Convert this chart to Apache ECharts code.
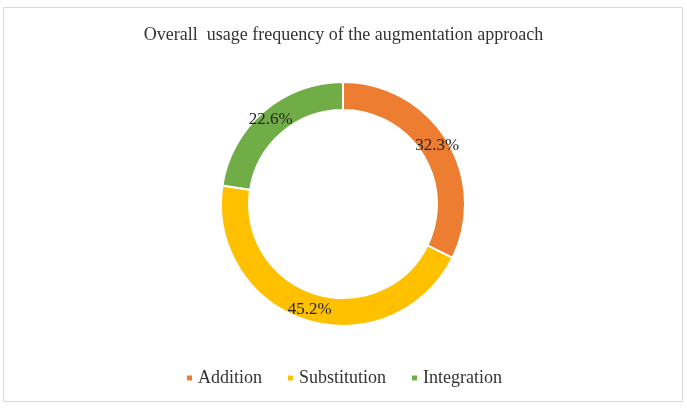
<!DOCTYPE html>
<html>
<head>
<meta charset="utf-8">
<script src="https://cdn.jsdelivr.net/npm/echarts@6/dist/echarts.min.js"></script>
<style>
  html, body { margin: 0; padding: 0; background: #fff; }
  #chart { width: 687px; height: 408px; }
</style>
</head>
<body>
<div id="chart"></div>
<script>
// 数据
const categories = ['Addition', 'Substitution', 'Integration']
const shares = [32.3, 45.2, 22.6]
const colors = ['#ED7D31', '#FFC000', '#70AD47']

const chart = echarts.init(document.getElementById('chart'))

const font = '"Liberation Serif", "Times New Roman", serif'

const option = {
  backgroundColor: '#fff',
  title: {
    text: 'Overall  usage frequency of the augmentation approach',
    left: 'center',
    top: 21,
    textStyle: {
      fontFamily: font,
      fontSize: 18,
      fontWeight: 'normal',
      color: '#333'
    }
  },
  legend: {
    bottom: 16,
    left: 'center',
    icon: 'rect',
    itemWidth: 7,
    itemHeight: 7,
    itemGap: 24,
    textStyle: {
      fontFamily: font,
      fontSize: 18,
      color: '#333'
    },
    data: categories
  },
  // 外框
  graphic: [
    {
      type: 'rect',
      shape: { x: 3.5, y: 7.5, width: 679, height: 394 },
      style: { fill: 'none', stroke: '#d9d9d9', lineWidth: 1 },
      silent: true
    }
  ],
  series: [
    {
      type: 'pie',
      center: [343, 204],
      radius: [94, 122],
      startAngle: 90,
      clockwise: true,
      avoidLabelOverlap: false,
      itemStyle: {
        borderColor: '#fff',
        borderWidth: 2
      },
      label: {
        show: true,
        position: 'inside',
        formatter: '{c}%',
        fontFamily: font,
        fontSize: 17,
        color: '#262626'
      },
      labelLine: { show: false },
      emphasis: { scale: false },
      data: categories.map((name, i) => ({
        name,
        value: shares[i],
        itemStyle: { color: colors[i] }
      }))
    }
  ]
}

chart.setOption(option)
</script>
</body>
</html>
